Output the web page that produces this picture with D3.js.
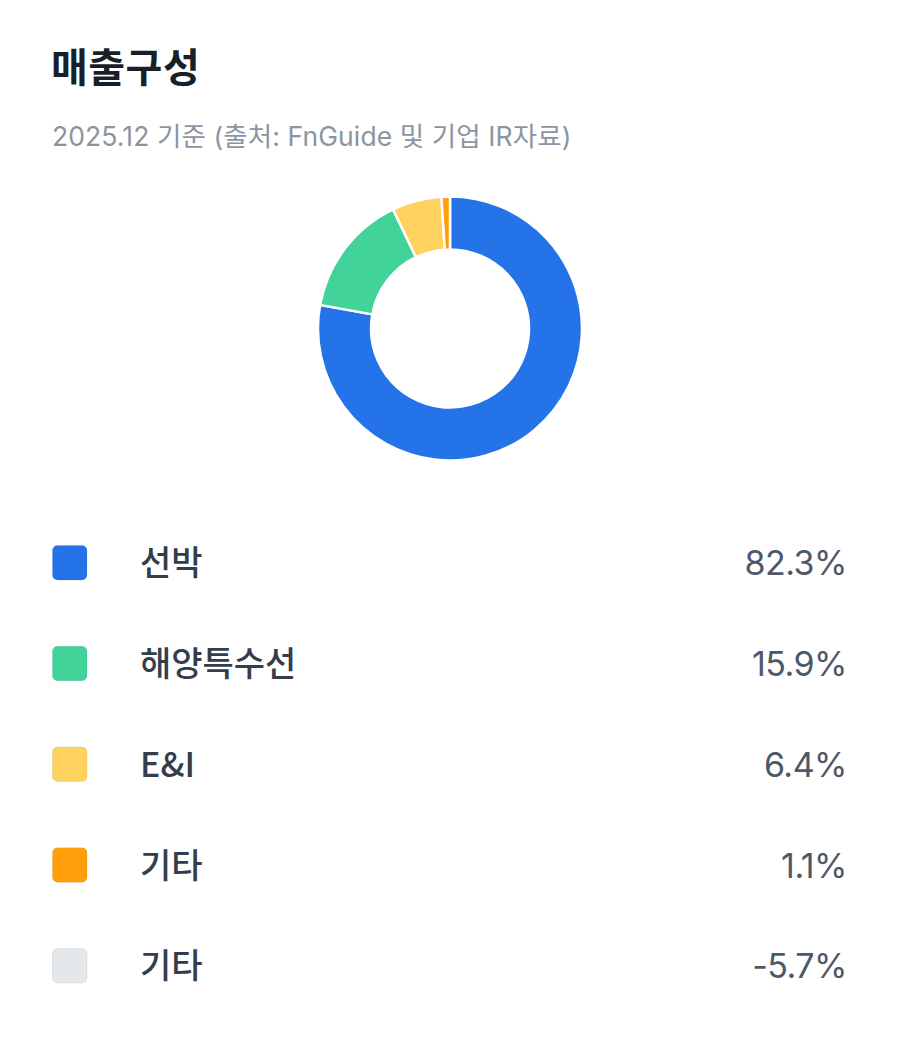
<!DOCTYPE html>
<html>
<head>
<meta charset="utf-8">
<script src="https://cdn.jsdelivr.net/npm/d3@7"></script>
<style>
  html, body { margin: 0; padding: 0; background: #ffffff; }
  svg { display: block; font-family: "Noto Sans CJK KR", "Noto Sans", sans-serif; }
</style>
</head>
<body>
<svg id="chart" width="900" height="1040"></svg>
<script>
const title = "매출구성";
const subtitle = "2025.12 기준 (출처: FnGuide 및 기업 IR자료)";
const categories = ["선박", "해양특수선", "E&I", "기타", "기타"];
const values = [82.3, 15.9, 6.4, 1.1, -5.7];
const colors = ["#2473e8", "#41d399", "#ffd260", "#ff9e0a", "#e5e8eb"];

const svg = d3.select("#chart");

svg.append("text").attr("x", 51).attr("y", 82)
  .attr("font-size", 40).attr("font-weight", 700).attr("fill", "#191f28")
  .style("letter-spacing", "0.5px")
  .text(title);
svg.append("text").attr("x", 52).attr("y", 146)
  .attr("font-size", 26.5).attr("font-weight", 400).attr("fill", "#8b95a1")
  .style("font-family", "Inter, 'Noto Sans CJK KR', sans-serif")
  .style("letter-spacing", "0.1px")
  .text(subtitle);

const data = categories.map((c, i) => ({ name: c, value: values[i], color: colors[i] }));
const pieData = data.filter(d => d.value > 0);

const pie = d3.pie().sort(null).value(d => d.value);
const arc = d3.arc().innerRadius(79).outerRadius(132);

const g = svg.append("g").attr("transform", "translate(450,328.5)");
g.selectAll("path").data(pie(pieData)).join("path")
  .attr("d", arc)
  .attr("fill", d => d.data.color)
  .attr("stroke", "#ffffff")
  .attr("stroke-width", 2.5);

const y = d3.scalePoint().domain(d3.range(data.length)).range([563, 966]);

const rows = svg.append("g").selectAll("g").data(data).join("g")
  .attr("transform", (d, i) => `translate(0,${y(i)})`);

rows.append("rect")
  .attr("x", 52.5).attr("y", -17.5).attr("width", 34.5).attr("height", 34.5)
  .attr("rx", 5).attr("fill", d => d.color)
  .attr("stroke", "rgba(0,0,0,0.07)").attr("stroke-width", 1);

rows.append("text")
  .attr("x", 140).attr("y", 0).attr("dy", "0.36em")
  .attr("font-size", 34).attr("font-weight", 500).attr("fill", "#333d4b")
  .text(d => d.name);

rows.append("text")
  .attr("x", 847).attr("y", 0).attr("dy", "0.36em")
  .attr("text-anchor", "end")
  .attr("font-size", 34).attr("font-weight", 400).attr("fill", "#4e5968")
  .style("font-family", "Inter, 'Noto Sans CJK KR', sans-serif")
  .style("letter-spacing", "-0.5px")
  .text(d => d.value.toFixed(1) + "%");
</script>
</body>
</html>
